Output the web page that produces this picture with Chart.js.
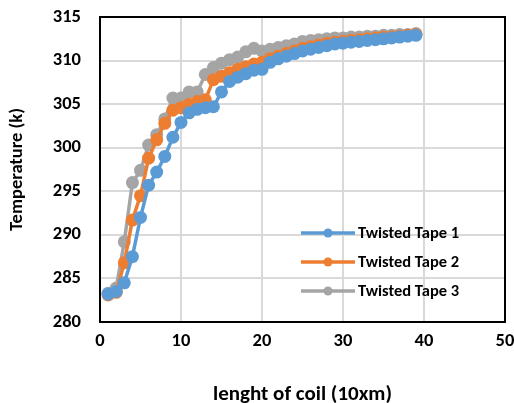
<!DOCTYPE html>
<html>
<head>
<meta charset="utf-8">
<script src="https://cdn.jsdelivr.net/npm/chart.js@4/dist/chart.umd.min.js"></script>
<style>
  html, body { margin: 0; padding: 0; background: #fff; }
  #wrap { width: 514px; height: 403px; }
</style>
</head>
<body>
<div id="wrap"><canvas id="tempChart" width="514" height="403"></canvas></div>
<script>
const positions = [1, 2, 3, 4, 5, 6, 7, 8, 9, 10, 11, 12, 13, 14, 15, 16, 17, 18, 19, 20,
                   21, 22, 23, 24, 25, 26, 27, 28, 29, 30, 31, 32, 33, 34, 35, 36, 37, 38, 39];
const tape1 = [283.2, 283.5, 284.5, 287.5, 292.0, 295.7, 297.2, 299.0, 301.2, 302.9, 304.0, 304.4, 304.6, 304.7, 306.4, 307.6, 308.1, 308.5, 308.9, 309.0,
               309.8, 310.2, 310.5, 310.8, 311.1, 311.3, 311.5, 311.7, 311.9, 312.0, 312.1, 312.2, 312.3, 312.4, 312.5, 312.6, 312.7, 312.8, 312.9];
const tape2 = [283.1, 283.4, 286.8, 291.7, 294.5, 298.8, 300.9, 302.8, 304.3, 304.6, 305.0, 305.3, 305.5, 307.8, 308.2, 308.6, 309.0, 309.3, 309.6, 309.8,
               310.2, 310.5, 310.8, 311.1, 311.4, 311.6, 311.8, 312.0, 312.1, 312.2, 312.3, 312.4, 312.5, 312.6, 312.7, 312.7, 312.8, 312.9, 313.0];
const tape3 = [283.3, 283.9, 289.2, 296.0, 297.4, 300.3, 301.5, 303.3, 305.7, 305.7, 306.4, 306.4, 308.4, 309.2, 309.7, 310.1, 310.4, 311.0, 311.4, 311.1,
               311.3, 311.5, 311.7, 311.9, 312.2, 312.3, 312.4, 312.5, 312.6, 312.6, 312.7, 312.7, 312.8, 312.8, 312.9, 312.9, 313.0, 313.0, 313.1];
const seriesNames = ['Twisted Tape 1', 'Twisted Tape 2', 'Twisted Tape 3'];
const seriesColors = ['#5B9BD5', '#ED7D31', '#A5A5A5'];
const xTicks = [0, 10, 20, 30, 40, 50];
const yTicks = [280, 285, 290, 295, 300, 305, 310, 315];

const font = 'Calibri, Carlito, "Open Sans", "Liberation Sans", sans-serif';

const toPoints = vals => vals.map((v, i) => ({ x: positions[i], y: v }));

const datasets = [tape1, tape2, tape3].map((vals, i) => ({
    label: seriesNames[i],
    data: toPoints(vals),
    borderColor: seriesColors[i],
    backgroundColor: seriesColors[i],
    borderWidth: 3.5,
    pointRadius: 6.5,
    pointBorderWidth: 0,
    pointHoverRadius: 6.5,
    tension: 0
}));

// black frame around the plot + legend inside the plot area
const framePlugin = {
    id: 'frame',
    afterDraw(chart) {
        const { ctx, chartArea: a } = chart;
        ctx.save();
        ctx.strokeStyle = '#000';
        ctx.lineWidth = 2;
        ctx.strokeRect(a.left, a.top, a.right - a.left, a.bottom - a.top);

        const x0 = 301, x1 = 355, rowY = [233, 262, 291];
        chart.data.datasets.forEach((ds, i) => {
            const y = rowY[i];
            ctx.strokeStyle = ds.borderColor;
            ctx.lineWidth = 3.5;
            ctx.beginPath();
            ctx.moveTo(x0, y);
            ctx.lineTo(x1, y);
            ctx.stroke();
            ctx.fillStyle = ds.backgroundColor;
            ctx.beginPath();
            ctx.arc((x0 + x1) / 2, y, 4.5, 0, Math.PI * 2);
            ctx.fill();
            ctx.fillStyle = '#000';
            ctx.font = 'bold 16.5px ' + font;
            ctx.textBaseline = 'middle';
            ctx.textAlign = 'left';
            ctx.fillText(ds.label, x1 + 3, y + 1);
        });
        ctx.restore();
    }
};

new Chart(document.getElementById('tempChart'), {
    type: 'line',
    data: { datasets },
    options: {
        responsive: false,
        animation: false,
        layout: { padding: { top: 17, right: 9, left: 0, bottom: 0 } },
        plugins: { legend: { display: false }, tooltip: { enabled: false } },
        scales: {
            x: {
                type: 'linear',
                min: 0, max: 50,
                afterBuildTicks: s => { s.ticks = xTicks.map(v => ({ value: v })); },
                afterFit: s => { s.height = 81; s.paddingLeft = 0; s.paddingRight = 0; },
                grid: { color: '#d9d9d9', lineWidth: 2, drawTicks: false },
                border: { display: false },
                ticks: { color: '#000', padding: 8, font: { family: font, size: 18.5, weight: 'bold' } },
                title: {
                    display: true, text: 'lenght of coil (10xm)', color: '#000',
                    font: { family: font, size: 21, weight: 'bold' }, padding: { top: 0, bottom: -4 }
                }
            },
            y: {
                min: 280, max: 315,
                afterBuildTicks: s => { s.ticks = yTicks.map(v => ({ value: v })); },
                afterFit: s => { s.width = 100; s.paddingTop = 0; s.paddingBottom = 0; },
                grid: { color: '#d9d9d9', lineWidth: 2, drawTicks: false },
                border: { display: false },
                ticks: { color: '#000', padding: 19, font: { family: font, size: 18.5, weight: 'bold' } },
                title: {
                    display: true, text: 'Temperature (k)', color: '#000',
                    font: { family: font, size: 18.5, weight: 'bold' }, padding: { top: 6, bottom: 8 }
                }
            }
        }
    },
    plugins: [framePlugin]
});
</script>
</body>
</html>
